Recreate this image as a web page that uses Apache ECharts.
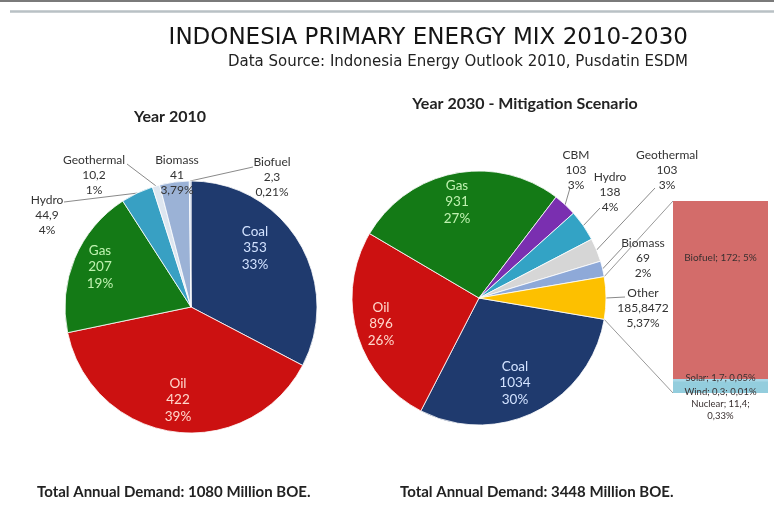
<!DOCTYPE html>
<html><head><meta charset="utf-8">
<script src="https://cdn.jsdelivr.net/npm/echarts@6/dist/echarts.min.js"></script>
<style>html,body{margin:0;padding:0;background:#fff}#c{width:774px;height:520px}</style>
</head><body><div id="c"></div>
<script>
// ---------- DATA ----------
const names2010 = ['Coal','Oil','Gas','Hydro','Geothermal','Biomass','Biofuel'];
const values2010 = [353, 422, 207, 44.9, 10.2, 41, 2.3];
const pct2010 = ['33%','39%','19%','4%','1%','3,79%','0,21%'];

const names2030 = ['Coal','Oil','Gas','CBM','Hydro','Geothermal','Biomass','Other'];
const values2030 = [1034, 896, 931, 103, 138, 103, 69, 185.8472];
const pct2030 = ['30%','26%','27%','3%','4%','3%','2%','5,37%'];

const namesOther = ['Nuclear','Wind','Solar','Biofuel'];
const valuesOther = [11.4, 0.3, 1.7, 172];
const pctOther = ['0,33%','0,01%','0,05%','5%'];

const titleText = 'INDONESIA PRIMARY ENERGY MIX 2010-2030';
const subtitleText = 'Data Source: Indonesia Energy Outlook 2010, Pusdatin ESDM';
const yearTitles = ['Year 2010', 'Year 2030 - Mitigation Scenario'];
const totalTexts = ['Total Annual Demand: 1080 Million BOE.', 'Total Annual Demand: 3448 Million BOE.'];

// ---------- LAYOUT / STYLE ----------
const L = {cx: 191, cy: 307, r: 126};
const R = {cx: 479, cy: 298, r: 127};
const BAR = {left: 673, top: 201, width: 95, height: 192};

const col2010 = ['#1f3a6e','#cc1111','#147a16','#38a0c3','#dde6f0','#9bb2d6','#c6d3e8'];
const col2030 = ['#1f3a6e','#cc1111','#147a16','#7a2fb0','#33a3c5','#d6d6d6','#8ea9d8','#fdc000'];
const colOther = ['#93cddd','#6fbfd6','#a8d8e8','#d36c6a'];
const insideColor = {Coal: '#d2e2ff', Oil: '#ffd8cc', Gas: '#bff2b0'};

const pos2010 = [[255,248],[178,400],[100,267],[47,215],[94,175],[177,175],[272,177]];
const lead2010 = [null,null,null,[64,202],[127,164],null,[253,167]];
const pos2030 = [[515,383],[381,324],[457,202],[576,170],[610,192],[667,170],[643,258],[643,308]];
const lead2030 = [null,null,null,[570,188],[600,208],[655,188],[623,247],[625,297]];

const FONT = 'Lato, "Open Sans", sans-serif';
const sum = a => a.reduce((s, v) => s + v, 0);
const fmt = v => String(v).replace('.', ',');

function edgePoints(vals, startDeg, P) {
  const tot = sum(vals);
  let a = startDeg;
  return vals.map(v => {
    const s = v / tot * 360;
    const m = (a - s / 2) * Math.PI / 180;
    a -= s;
    return [P.cx + P.r * Math.cos(m), P.cy - P.r * Math.sin(m)];
  });
}

const tot30 = sum(values2030);
const halfOther = values2030[7] / tot30 * 180;      // degrees
const start2030 = 360 - halfOther;
const start2010 = 90;
const edge2010 = edgePoints(values2010, start2010, L);
const edge2030 = edgePoints(values2030, start2030, R);

function pieSeries(names, values, pct, colors, P, start, pos, lead, edge) {
  return {
    type: 'pie',
    center: [P.cx, P.cy],
    radius: P.r,
    startAngle: start,
    clockwise: true,
    avoidLabelOverlap: false,
    silent: true,
    itemStyle: {borderColor: '#ffffff', borderWidth: 0.8},
    data: names.map((n, i) => {
      const inside = insideColor[n] !== undefined;
      return {
        name: n, value: values[i],
        itemStyle: {color: colors[i]},
        label: inside
          ? {position: 'inside', color: insideColor[n], fontSize: 13.5, lineHeight: 16.5}
          : {position: 'outside', color: '#333', fontSize: 12, lineHeight: 15},
        labelLine: {show: !inside && lead[i] !== null}
      };
    }),
    label: {
      fontFamily: FONT,
      formatter: p => p.name + '\n' + fmt(p.value) + '\n' + pct[p.dataIndex]
    },
    labelLine: {show: true, length: 8, length2: 8, lineStyle: {color: '#8a8a8a', width: 1}},
    labelLayout: p => {
      const i = p.dataIndex;
      const o = {x: pos[i][0], y: pos[i][1], align: 'center', verticalAlign: 'middle'};
      if (lead[i]) o.labelLinePoints = [edge[i], lead[i]];
      return o;
    }
  };
}

const barLabelCfg = [
  {position: ['50%','50%'], offset: [0, 23]},
  {position: ['50%','50%'], offset: [0, 11]},
  {position: ['50%','50%'], offset: [0, -2]},
  {position: ['50%','32%'], offset: [0, 0]}
];

const barSeries = namesOther.map((n, i) => ({
  type: 'bar', stack: 'other', name: n,
  data: [valuesOther[i]],
  barWidth: '100%',
  silent: true,
  itemStyle: {color: colOther[i]},
  label: {
    show: true,
    position: barLabelCfg[i].position,
    offset: barLabelCfg[i].offset,
    align: 'center', verticalAlign: 'middle',
    fontFamily: FONT, fontSize: n === 'Biofuel' ? 10 : 9.5, lineHeight: 12,
    color: '#3a3030',
    formatter: () => n + '; ' + fmt(valuesOther[i]) + ';' + (n === 'Nuclear' ? '\n' : ' ') + pctOther[i]
  }
}));

const rOtherTop = [R.cx + R.r * Math.cos(halfOther * Math.PI / 180), R.cy - R.r * Math.sin(halfOther * Math.PI / 180)];
const rOtherBot = [rOtherTop[0], R.cy + R.r * Math.sin(halfOther * Math.PI / 180)];

const chart = echarts.init(document.getElementById('c'), null, {renderer: 'canvas'});
chart.setOption({
  animation: false,
  backgroundColor: '#ffffff',
  grid: {left: BAR.left, top: BAR.top, width: BAR.width, height: BAR.height},
  xAxis: {type: 'category', data: ['Other'], show: false},
  yAxis: {type: 'value', min: 0, max: sum(valuesOther), show: false},
  series: [
    pieSeries(names2010, values2010, pct2010, col2010, L, start2010, pos2010, lead2010, edge2010),
    pieSeries(names2030, values2030, pct2030, col2030, R, start2030, pos2030, lead2030, edge2030)
  ].concat(barSeries),
  graphic: [
    {type: 'line', shape: {x1: 0, y1: 1, x2: 774, y2: 1}, style: {stroke: '#7a7a7a', lineWidth: 2}},
    {type: 'line', shape: {x1: 10, y1: 11.5, x2: 774, y2: 11.5}, style: {stroke: '#b9c1c5', lineWidth: 2.5}},
    {type: 'text', x: 688, y: 38, style: {text: titleText, fill: '#151515', font: 'normal 23px "DejaVu Sans"', textAlign: 'right', textVerticalAlign: 'middle'}},
    {type: 'text', x: 688, y: 62, style: {text: subtitleText, fill: '#222', font: 'normal 15px "DejaVu Sans"', textAlign: 'right', textVerticalAlign: 'middle'}},
    {type: 'text', x: 170, y: 117, style: {text: yearTitles[0], fill: '#222', font: 'bold 16px Lato', textAlign: 'center', textVerticalAlign: 'middle'}},
    {type: 'text', x: 525, y: 104, style: {text: yearTitles[1], fill: '#222', font: 'bold 16px Lato', textAlign: 'center', textVerticalAlign: 'middle'}},
    {type: 'text', x: 37, y: 492, style: {text: totalTexts[0], fill: '#222', font: 'bold 15px Lato', textAlign: 'left', textVerticalAlign: 'middle'}},
    {type: 'text', x: 400, y: 492, style: {text: totalTexts[1], fill: '#222', font: 'bold 15px Lato', textAlign: 'left', textVerticalAlign: 'middle'}},
    {type: 'line', shape: {x1: rOtherTop[0], y1: rOtherTop[1], x2: BAR.left, y2: BAR.top}, style: {stroke: '#9a9a9a', lineWidth: 1}},
    {type: 'line', shape: {x1: rOtherBot[0], y1: rOtherBot[1], x2: BAR.left, y2: BAR.top + BAR.height}, style: {stroke: '#9a9a9a', lineWidth: 1}}
  ]
});
</script></body></html>
